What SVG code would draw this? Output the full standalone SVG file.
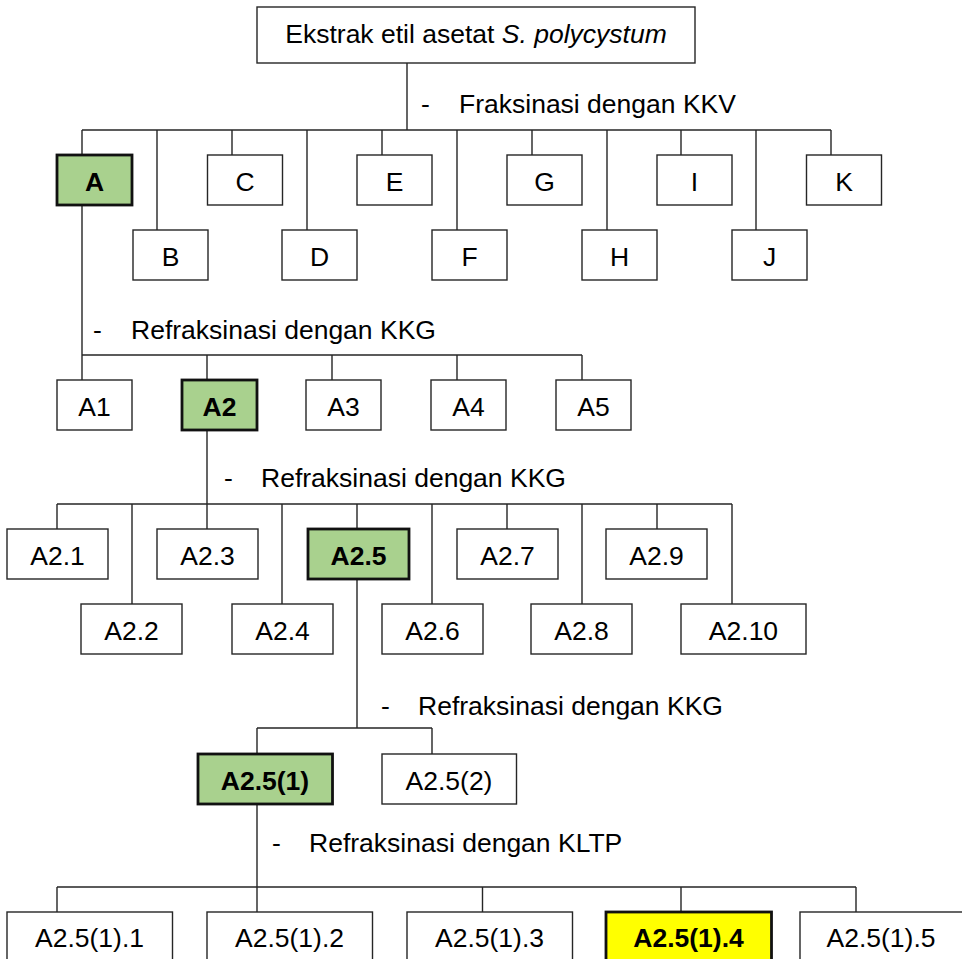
<svg xmlns="http://www.w3.org/2000/svg" width="962" height="959" viewBox="0 0 962 959">
<style>
text{font-family:"Liberation Sans",Arial,sans-serif;font-size:26.5px;fill:#000}
.c{text-anchor:middle}
.b{font-weight:bold}
.n rect{fill:#fff;stroke:#262626;stroke-width:1.4}
.g rect{fill:#a9d18e;stroke:#111;stroke-width:2.8}
.y rect{fill:#ffff00;stroke:#111;stroke-width:2.8}
#connectors path{fill:none;stroke:#262626;stroke-width:1.4}
</style>
<defs>
<clipPath id="clip3"><rect x="370" y="680" width="400" height="39.5"/></clipPath>
</defs>
<rect width="962" height="959" fill="#fff"/>
<g id="connectors">
<path d="M407 63V130M82 130H831M82 130V155M157 130V230M232 130V155M307 130V230M382 130V155M457 130V230M532 130V155M607 130V230M681 130V155M756 130V230M831 130V155"/>
<path d="M82 205V355M82 355H582M82 355V380M207 355V380M332 355V380M457 355V380M582 355V380"/>
<path d="M207 430V504M57 504H732M57 504V529M132 504V604M207 504V529M282 504V604M357 504V529M432 504V604M507 504V529M582 504V604M657 504V529M732 504V604"/>
<path d="M357 579V728M257 728H432M257 728V754M432 728V754"/>
<path d="M257 804V887M57 887H856M57 887V912M257 887V912M482.5 887V912M681 887V912M856 887V912"/>
</g>
<g id="labels">
<text x="421" y="113">-</text><text x="459" y="113">Fraksinasi dengan KKV</text>
<text x="93" y="339">-</text><text x="131" y="339">Refraksinasi dengan KKG</text>
<text x="224" y="487">-</text><text x="261" y="487">Refraksinasi dengan KKG</text>
<g clip-path="url(#clip3)"><text x="381" y="715">-</text><text x="418" y="715">Refraksinasi dengan KKG</text></g>
<text x="272" y="852">-</text><text x="309" y="852">Refraksinasi dengan KLTP</text>
</g>
<g id="root" class="n"><rect x="257" y="7" width="438" height="56"/><text class="c" x="476" y="43">Ekstrak etil asetat <tspan font-style="italic">S. polycystum</tspan></text></g>
<g id="A" class="g"><rect x="57" y="155" width="75" height="50"/><text class="c b" x="94.5" y="191">A</text></g>
<g id="C" class="n"><rect x="207.5" y="155" width="75" height="50"/><text class="c" x="245" y="191">C</text></g>
<g id="E" class="n"><rect x="357" y="155" width="75" height="50"/><text class="c" x="394.5" y="191">E</text></g>
<g id="G" class="n"><rect x="507" y="155" width="75" height="50"/><text class="c" x="544.5" y="191">G</text></g>
<g id="I" class="n"><rect x="657" y="155" width="75" height="50"/><text class="c" x="694.5" y="191">I</text></g>
<g id="K" class="n"><rect x="806.5" y="155" width="75" height="50"/><text class="c" x="844" y="191">K</text></g>
<g id="B" class="n"><rect x="133" y="230" width="75" height="50"/><text class="c" x="170.5" y="266">B</text></g>
<g id="D" class="n"><rect x="282" y="230" width="75" height="50"/><text class="c" x="319.5" y="266">D</text></g>
<g id="F" class="n"><rect x="432" y="230" width="75" height="50"/><text class="c" x="469.5" y="266">F</text></g>
<g id="H" class="n"><rect x="582" y="230" width="75" height="50"/><text class="c" x="619.5" y="266">H</text></g>
<g id="J" class="n"><rect x="732" y="230" width="75" height="50"/><text class="c" x="769.5" y="266">J</text></g>
<g id="A1" class="n"><rect x="57" y="380" width="75" height="50"/><text class="c" x="94.5" y="416">A1</text></g>
<g id="A2" class="g"><rect x="182" y="380" width="75" height="50"/><text class="c b" x="219.5" y="416">A2</text></g>
<g id="A3" class="n"><rect x="306" y="380" width="75" height="50"/><text class="c" x="343.5" y="416">A3</text></g>
<g id="A4" class="n"><rect x="431" y="380" width="75" height="50"/><text class="c" x="468.5" y="416">A4</text></g>
<g id="A5" class="n"><rect x="556" y="380" width="75" height="50"/><text class="c" x="593.5" y="416">A5</text></g>
<g id="A2.1" class="n"><rect x="7" y="529" width="101" height="50"/><text class="c" x="57.5" y="565">A2.1</text></g>
<g id="A2.3" class="n"><rect x="157" y="529" width="101" height="50"/><text class="c" x="207.5" y="565">A2.3</text></g>
<g id="A2.5" class="g"><rect x="308" y="529" width="101" height="50"/><text class="c b" x="358.5" y="565">A2.5</text></g>
<g id="A2.7" class="n"><rect x="457" y="529" width="101" height="50"/><text class="c" x="507.5" y="565">A2.7</text></g>
<g id="A2.9" class="n"><rect x="606" y="529" width="101" height="50"/><text class="c" x="656.5" y="565">A2.9</text></g>
<g id="A2.2" class="n"><rect x="81" y="604" width="101" height="50"/><text class="c" x="131.5" y="640">A2.2</text></g>
<g id="A2.4" class="n"><rect x="232" y="604" width="101" height="50"/><text class="c" x="282.5" y="640">A2.4</text></g>
<g id="A2.6" class="n"><rect x="382" y="604" width="101" height="50"/><text class="c" x="432.5" y="640">A2.6</text></g>
<g id="A2.8" class="n"><rect x="531" y="604" width="101" height="50"/><text class="c" x="581.5" y="640">A2.8</text></g>
<g id="A2.10" class="n"><rect x="681" y="604" width="125" height="50"/><text class="c" x="743.5" y="640">A2.10</text></g>
<g id="A2.5-1" class="g"><rect x="198" y="754" width="134.5" height="50"/><text class="c b" x="265" y="790">A2.5(1)</text></g>
<g id="A2.5-2" class="n"><rect x="382" y="754" width="134.5" height="50"/><text class="c" x="449" y="790">A2.5(2)</text></g>
<g id="A2.5-1.1" class="n"><rect x="7" y="912" width="165.5" height="60"/><text class="c" x="89.5" y="947">A2.5(1).1</text></g>
<g id="A2.5-1.2" class="n"><rect x="207" y="912" width="165.5" height="60"/><text class="c" x="289.5" y="947">A2.5(1).2</text></g>
<g id="A2.5-1.3" class="n"><rect x="407" y="912" width="165.5" height="60"/><text class="c" x="489.5" y="947">A2.5(1).3</text></g>
<g id="A2.5-1.4" class="y"><rect x="606" y="912" width="165.5" height="60"/><text class="c b" x="688.5" y="947">A2.5(1).4</text></g>
<g id="A2.5-1.5" class="n"><rect x="800" y="912" width="175" height="60"/><text class="c" x="881" y="947">A2.5(1).5</text></g>
</svg>
